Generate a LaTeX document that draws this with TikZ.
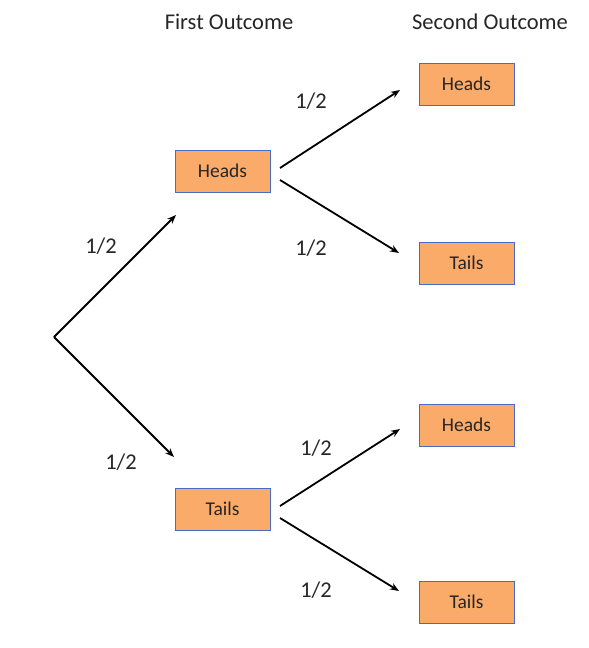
\documentclass[tikz,border=0pt]{standalone}
\usepackage{fontspec}
\setmainfont{Carlito}
\usetikzlibrary{arrows.meta}
\definecolor{boxfill}{HTML}{FBAB69}
\definecolor{boxline}{HTML}{4A6BC4}
\tikzset{
  outbox/.style={draw=boxline, line width=1pt, fill=boxfill, minimum width=95pt, minimum height=42pt, inner sep=0pt, font=\fontsize{19.5}{22}\selectfont, text=black!85},
  lbl/.style={font=\fontsize{22.5}{26}\selectfont, text=black!85, inner sep=0pt},
  ttl/.style={font=\fontsize{22.5}{26}\selectfont, text=black!85, inner sep=0pt},
  arr/.style={line width=1.8pt, -{Stealth[length=9pt,width=7pt]}}
}
\begin{document}
\begin{tikzpicture}[x=1pt,y=-1pt]
\path[use as bounding box] (0,0) rectangle (589,648);
\node[ttl] (t1) at (229,22) {First Outcome};
\node[ttl] (t2) at (490,22) {Second Outcome};
\node[outbox] (h1) at (222.5,171) {Heads};
\node[outbox] (t1b) at (222.5,509) {Tails};
\node[outbox] (hh) at (466.5,84) {Heads};
\node[outbox] (ht) at (466.5,263) {Tails};
\node[outbox] (th) at (466.5,425) {Heads};
\node[outbox] (tt) at (466.5,602) {Tails};
\coordinate (root) at (54,337);
\coordinate (e1) at (176,215);
\coordinate (e2) at (174,457);
\coordinate (s1) at (280,168);
\coordinate (s2) at (280,180);
\coordinate (s3) at (280,506);
\coordinate (s4) at (280,518);
\coordinate (f1) at (400,90);
\coordinate (f2) at (399,253);
\coordinate (f3) at (400,429);
\coordinate (f4) at (399,591);
\draw[arr] (root) -- (e1);
\draw[arr] (root) -- (e2);
\draw[arr] (s1) -- (f1);
\draw[arr] (s2) -- (f2);
\draw[arr] (s3) -- (f3);
\draw[arr] (s4) -- (f4);
\node[lbl] (p1) at (101,246) {1/2};
\node[lbl] (p2) at (121,462) {1/2};
\node[lbl] (p3) at (311,101) {1/2};
\node[lbl] (p4) at (311,248) {1/2};
\node[lbl] (p5) at (316,448) {1/2};
\node[lbl] (p6) at (316,590) {1/2};
\end{tikzpicture}
\end{document}
